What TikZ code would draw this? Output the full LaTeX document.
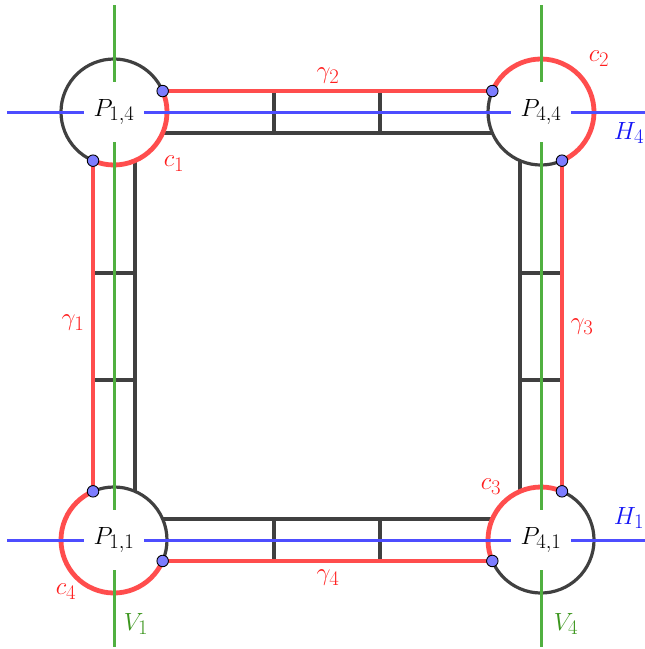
\documentclass[tikz,border=0pt]{standalone}
\usetikzlibrary{calc}
\definecolor{lred}{RGB}{255,77,77}
\definecolor{lblue}{RGB}{77,77,255}
\definecolor{lgreen}{RGB}{80,176,64}
\definecolor{tgreen}{RGB}{60,150,30}
\definecolor{tblue}{RGB}{20,20,245}
\definecolor{tred}{RGB}{255,30,30}
\definecolor{dgray}{RGB}{64,64,64}
\definecolor{dotfill}{RGB}{125,125,255}
\begin{document}
\begin{tikzpicture}[x=1pt,y=-1pt,
  redline/.style={lred,line width=4.8pt},
  blackline/.style={dgray,line width=3.2pt},
  hline/.style={lblue,line width=3pt},
  vline/.style={lgreen,line width=3pt},
  dotm/.style={circle,fill=dotfill,draw=black,line width=0.9pt,inner sep=0pt,minimum size=11.5pt},
  plabel/.style={inner sep=0pt,minimum width=60pt,minimum height=60pt,font=\Huge},
  lab/.style={inner sep=0pt,font=\Huge}]
\useasboundingbox (0,0) rectangle (645,649);
\def\a{23.3}
\def\r{53}
% centres
\coordinate (C14) at (114,112);
\coordinate (C44) at (541,112);
\coordinate (C11) at (114,540);
\coordinate (C41) at (541,540);
% red (dot) points
\coordinate (R14h) at ($(C14)+(-\a:\r)$);
\coordinate (R14v) at ($(C14)+(90+\a:\r)$);
\coordinate (R44h) at ($(C44)+(180+\a:\r)$);
\coordinate (R44v) at ($(C44)+(90-\a:\r)$);
\coordinate (R11h) at ($(C11)+(\a:\r)$);
\coordinate (R11v) at ($(C11)+(270-\a:\r)$);
\coordinate (R41h) at ($(C41)+(180-\a:\r)$);
\coordinate (R41v) at ($(C41)+(270+\a:\r)$);
% black points
\coordinate (B14h) at ($(C14)+(\a:\r)$);
\coordinate (B14v) at ($(C14)+(90-\a:\r)$);
\coordinate (B44h) at ($(C44)+(180-\a:\r)$);
\coordinate (B44v) at ($(C44)+(90+\a:\r)$);
\coordinate (B11h) at ($(C11)+(-\a:\r)$);
\coordinate (B11v) at ($(C11)+(270+\a:\r)$);
\coordinate (B41h) at ($(C41)+(180+\a:\r)$);
\coordinate (B41v) at ($(C41)+(270-\a:\r)$);
% black arcs
\draw[blackline] (R14v) arc[start angle=90+\a, end angle=360-\a, radius=\r];
\draw[blackline] (R44v) arc[start angle=90-\a, end angle=180+\a, radius=\r];
\draw[blackline] (R11v) arc[start angle=270-\a, end angle=360+\a, radius=\r];
\draw[blackline] (R41v) arc[start angle=270+\a, end angle=360+180-\a, radius=\r];
% black channel lines
\draw[blackline] (B14h) -- (B44h);
\draw[blackline] (B14v) -- (B11v);
\draw[blackline] (B44v) -- (B41v);
\draw[blackline] (B11h) -- (B41h);
% ticks
\coordinate (t1a) at (274,92); \coordinate (t1b) at (274,133);
\coordinate (t2a) at (380,92); \coordinate (t2b) at (380,133);
\coordinate (t3a) at (274,519); \coordinate (t3b) at (274,561);
\coordinate (t4a) at (380,519); \coordinate (t4b) at (380,561);
\coordinate (t5a) at (92,273); \coordinate (t5b) at (135,273);
\coordinate (t6a) at (92,380); \coordinate (t6b) at (135,380);
\coordinate (t7a) at (520,273); \coordinate (t7b) at (562,273);
\coordinate (t8a) at (520,380); \coordinate (t8b) at (562,380);
\foreach \i in {1,...,8} {\draw[blackline] (t\i a) -- (t\i b);}
% red arcs
\draw[redline] (R14h) arc[start angle=-\a, end angle=90+\a, radius=\r];
\draw[redline] (R44h) arc[start angle=180+\a, end angle=450-\a, radius=\r];
\draw[redline] (R11h) arc[start angle=\a, end angle=270-\a, radius=\r];
\draw[redline] (R41h) arc[start angle=180-\a, end angle=270+\a, radius=\r];
% red channel lines
\draw[redline] (R14h) -- (R44h);
\draw[redline] (R14v) -- (R11v);
\draw[redline] (R44v) -- (R41v);
\draw[redline] (R11h) -- (R41h);
% P labels
\node[plabel] (p14) at (C14) {$P_{1,4}$};
\node[plabel] (p44) at (C44) {$P_{4,4}$};
\node[plabel] (p11) at (C11) {$P_{1,1}$};
\node[plabel] (p41) at (C41) {$P_{4,1}$};
% blue and green lines
\coordinate (h4l) at (7,112); \coordinate (h4r) at (645,112);
\coordinate (h1l) at (7,540); \coordinate (h1r) at (645,540);
\coordinate (v1t) at (114,5); \coordinate (v1b) at (114,647);
\coordinate (v4t) at (541,5); \coordinate (v4b) at (541,647);
\draw[hline] (h4l) -- (p14.west) (p14.east) -- (p44.west) (p44.east) -- (h4r);
\draw[hline] (h1l) -- (p11.west) (p11.east) -- (p41.west) (p41.east) -- (h1r);
\draw[vline] (v1t) -- (p14.north) (p14.south) -- (p11.north) (p11.south) -- (v1b);
\draw[vline] (v4t) -- (p44.north) (p44.south) -- (p41.north) (p41.south) -- (v4b);
% dots
\foreach \p in {R14h,R14v,R44h,R44v,R11h,R11v,R41h,R41v} {\node[dotm] at (\p) {};}
% labels
\node[lab,text=tred] (g2) at (328,76) {$\gamma_2$};
\node[lab,text=tred] (g1) at (73,323) {$\gamma_1$};
\node[lab,text=tred] (g3) at (582,327) {$\gamma_3$};
\node[lab,text=tred] (g4) at (328,578) {$\gamma_4$};
\node[lab,text=tred] (c1) at (174,164) {$c_1$};
\node[lab,text=tred] (c2) at (599,59) {$c_2$};
\node[lab,text=tred] (c3) at (491,487) {$c_3$};
\node[lab,text=tred] (c4) at (66,592) {$c_4$};
\node[lab,text=tblue] (H4) at (629,133) {$H_4$};
\node[lab,text=tblue] (H1) at (629,518) {$H_1$};
\node[lab,text=tgreen] (V1) at (136,624) {$V_1$};
\node[lab,text=tgreen] (V4) at (566,624) {$V_4$};
\end{tikzpicture}
\end{document}
